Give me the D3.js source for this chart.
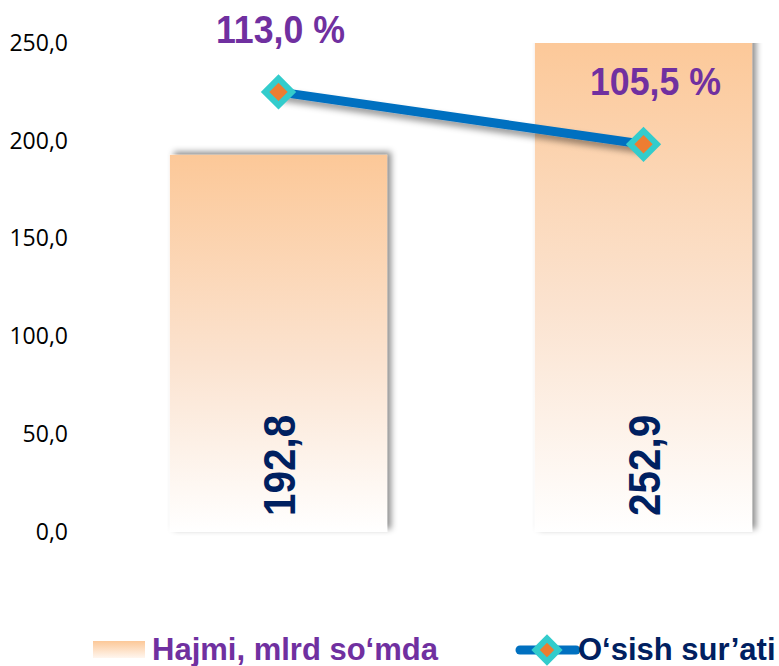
<!DOCTYPE html>
<html>
<head>
<meta charset="UTF-8" />
<script src="https://d3js.org/d3.v7.min.js"></script>
<style>
  body { margin: 0; background: #fff; }
  .tick-label { font-family: "Open Sans", sans-serif; font-size: 23px; fill: #000; }
  .pct { font-family: "Liberation Sans", Arial, sans-serif; font-weight: bold; fill: #7030a0; }
  .val { font-family: "Liberation Sans", Arial, sans-serif; font-weight: bold; fill: #002060; }
</style>
</head>
<body>
<svg width="779" height="666"></svg>
<script>
  // data
  var periods = ["I", "II"];
  var volume = [192.8, 252.9];
  var growth = [113.0, 105.5];
  var volumeLabels = ["192,8", "252,9"];
  var growthLabels = ["113,0 %", "105,5 %"];
  var yTicks = [0, 50, 100, 150, 200, 250];
  var legendNames = ["Hajmi, mlrd so\u2018mda", "O\u2018sish sur\u2019ati"];

  var svg = d3.select("svg");
  var defs = svg.append("defs");

  var grad = defs.append("linearGradient")
    .attr("id", "barGrad").attr("x1", 0).attr("y1", 0).attr("x2", 0).attr("y2", 1);
  grad.append("stop").attr("offset", "0%").attr("stop-color", "#fcc898");
  grad.append("stop").attr("offset", "55%").attr("stop-color", "#fbe3d0");
  grad.append("stop").attr("offset", "100%").attr("stop-color", "#ffffff");

  var shadow = defs.append("filter").attr("id", "barShadow")
    .attr("x", "-10%").attr("y", "-10%").attr("width", "130%").attr("height", "120%");
  shadow.append("feDropShadow").attr("dx", 4).attr("dy", -3)
    .attr("stdDeviation", 3).attr("flood-color", "#000").attr("flood-opacity", 0.45);

  var lineShadow = defs.append("filter").attr("id", "lineShadow")
    .attr("x", "-10%").attr("y", "-50%").attr("width", "130%").attr("height", "250%");
  lineShadow.append("feDropShadow").attr("dx", 3).attr("dy", 5)
    .attr("stdDeviation", 3).attr("flood-color", "#000").attr("flood-opacity", 0.4);

  defs.append("clipPath").attr("id", "plotClip")
    .append("rect").attr("x", 0).attr("y", 43).attr("width", 779).attr("height", 500);

  var x = d3.scaleBand().domain(periods).range([96, 826])
    .paddingInner(0.405).paddingOuter(0.2025);
  var y = d3.scaleLinear().domain([0, 250]).range([532, 43]);
  var y2 = d3.scaleLinear().domain([50, 120]).range([532, 43]);

  // y axis labels
  var yAxis = d3.axisLeft(y).tickValues(yTicks).tickSize(0).tickPadding(0)
    .tickFormat(function (d) { return d3.format(".1f")(d).replace(".", ","); });
  var ga = svg.append("g").attr("transform", "translate(68,0)").call(yAxis);
  ga.select(".domain").remove();
  ga.selectAll("text").attr("class", "tick-label").attr("font-family", null).attr("font-size", null);

  // bars
  svg.append("g").attr("clip-path", "url(#plotClip)")
    .selectAll("rect").data(periods).enter().append("rect")
    .attr("x", function (d) { return x(d); })
    .attr("width", x.bandwidth())
    .attr("y", function (d, i) { return y(volume[i]); })
    .attr("height", function (d, i) { return y(0) - y(volume[i]); })
    .attr("fill", "url(#barGrad)")
    .attr("filter", "url(#barShadow)");

  // bar value labels (rotated)
  svg.append("g").selectAll("text").data(periods).enter().append("text")
    .attr("class", "val")
    .attr("transform", function (d) {
      return "translate(" + (x(d) + x.bandwidth() / 2 + 16) + ",516) rotate(-90) scale(0.92,1)";
    })
    .style("font-size", "44px")
    .text(function (d, i) { return volumeLabels[i]; });

  // growth line
  var cx = function (d) { return x(d) + x.bandwidth() / 2; };
  var line = d3.line().x(function (d) { return cx(d); })
    .y(function (d, i) { return y2(growth[i]); });
  svg.append("path").datum(periods)
    .attr("d", line).attr("fill", "none")
    .attr("stroke", "#0070c0").attr("stroke-width", 9)
    .attr("filter", "url(#lineShadow)");

  var diamond = d3.symbol().type(d3.symbolSquare).size(360);
  svg.append("g").selectAll("path").data(periods).enter().append("path")
    .attr("d", diamond)
    .attr("transform", function (d, i) {
      return "translate(" + cx(d) + "," + y2(growth[i]) + ") rotate(45)";
    })
    .attr("fill", "#ed7d31").attr("stroke", "#33cccc").attr("stroke-width", 6);

  // growth labels
  var labelOffsets = [2, 12];
  svg.append("g").selectAll("text").data(periods).enter().append("text")
    .attr("class", "pct")
    .attr("text-anchor", "middle")
    .attr("transform", function (d, i) {
      return "translate(" + (cx(d) + labelOffsets[i]) + "," + (y2(growth[i]) - 49) + ") scale(0.94,1)";
    })
    .style("font-size", "38px")
    .text(function (d, i) { return growthLabels[i]; });

  // legend
  var lgrad = defs.append("linearGradient")
    .attr("id", "legGrad").attr("x1", 0).attr("y1", 0).attr("x2", 0).attr("y2", 1);
  lgrad.append("stop").attr("offset", "0%").attr("stop-color", "#fcc898");
  lgrad.append("stop").attr("offset", "100%").attr("stop-color", "#fff6ef");

  var leg = svg.append("g");
  leg.append("rect").attr("x", 93).attr("y", 641).attr("width", 52).attr("height", 17)
    .attr("fill", "url(#legGrad)");
  leg.append("text").attr("class", "pct")
    .attr("transform", "translate(152,660)")
    .style("font-size", "31px")
    .text(legendNames[0]);

  leg.append("line").attr("x1", 520).attr("x2", 576).attr("y1", 650).attr("y2", 650)
    .attr("stroke", "#0070c0").attr("stroke-width", 9).attr("stroke-linecap", "round");
  leg.append("path").attr("d", d3.symbol().type(d3.symbolSquare).size(260))
    .attr("transform", "translate(547,650) rotate(45)")
    .attr("fill", "#ed7d31").attr("stroke", "#33cccc").attr("stroke-width", 6);
  leg.append("text").attr("class", "val")
    .attr("transform", "translate(578,660)")
    .style("font-size", "31px")
    .text(legendNames[1]);
</script>
</body>
</html>
